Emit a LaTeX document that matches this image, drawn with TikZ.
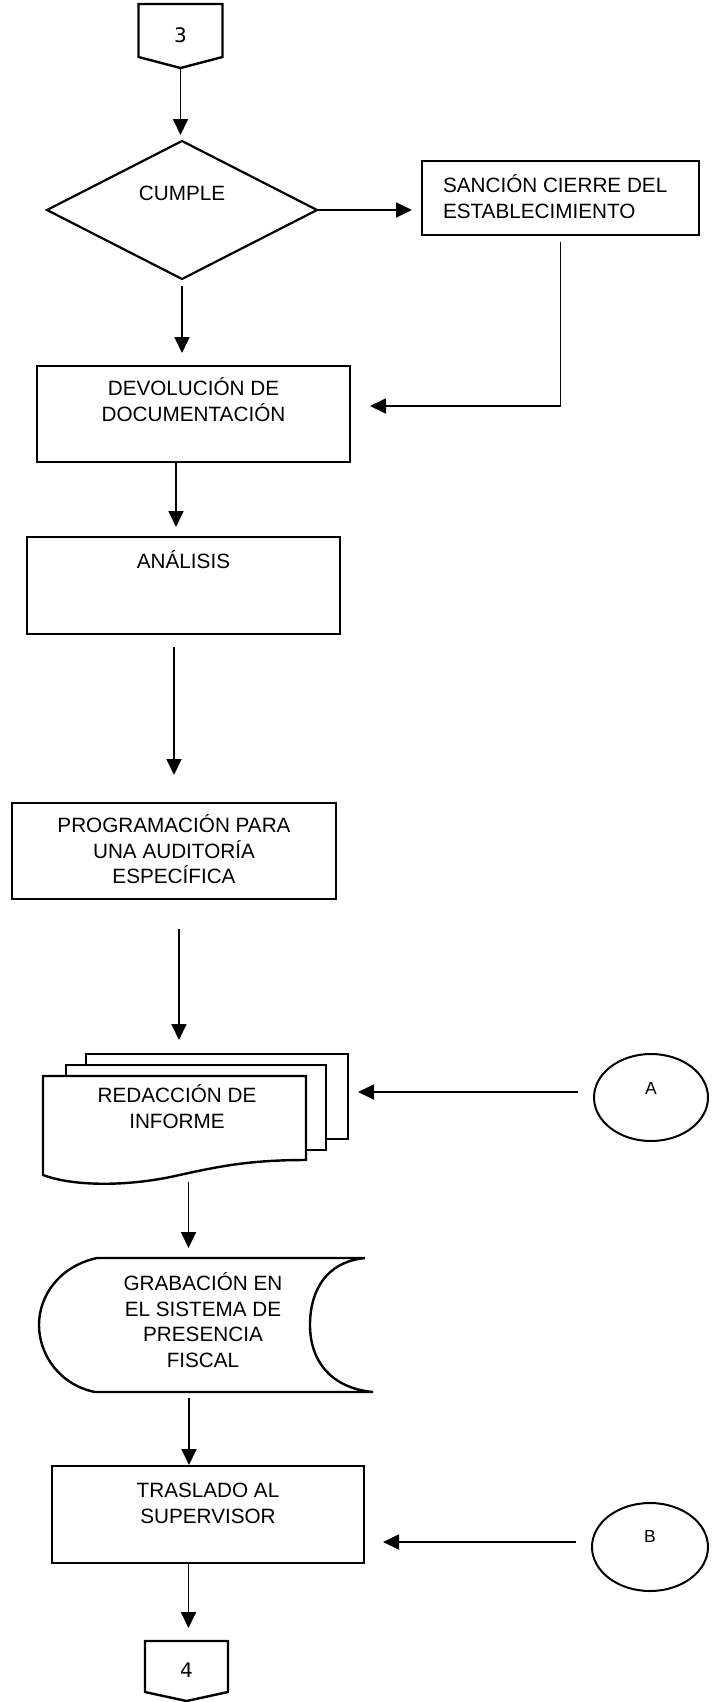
\documentclass[tikz,border=0pt]{standalone}
\usepackage{fontspec}
\setmainfont{Liberation Sans}
\newfontfamily\digitfont{DejaVu Sans}
\usetikzlibrary{arrows.meta,shapes.geometric}

\begin{document}
\begin{tikzpicture}[x=1pt,y=-1pt,
  every node/.style={inner sep=0pt, outer sep=0pt},
  box/.style={draw, line width=2.6pt},
  ghost/.style={draw=none},
  outline/.style={line width=2.4pt, line join=miter},
  txt/.style={font=\fontsize{20.7}{25.5}\selectfont, align=center, anchor=base},
  digit/.style={font=\digitfont\fontsize{20}{24}\selectfont},
  letter/.style={font=\fontsize{17.5}{20}\selectfont},
  arr/.style={line width=1.8pt, -{Triangle[width=15pt,length=16pt]}}]

\useasboundingbox (0,0) rectangle (719,1702);

% off-page connector "3"
\node[ghost, minimum width=84pt, minimum height=62pt, label={[digit]center:3}] (p3) at (180.5,35) {};
\draw[outline] ([yshift=9pt]p3.south west) -- (p3.north west) -- (p3.north east)
  -- ([yshift=9pt]p3.south east) -- ([yshift=-2pt]p3.south) -- cycle;

% decision
\node[diamond, draw, line width=2.2pt, minimum width=270pt, minimum height=138pt] (cumple) at (182,210) {};
\node[txt] (cumple-t) at ([yshift=9.5pt]cumple.center) {CUMPLE};

% sanction (multi-line text: base anchor sits on the last line)
\node[box, minimum width=277pt, minimum height=74pt] (sancion) at (560.5,198) {};
\node[txt, anchor=base west, align=left] (sancion-t) at ([xshift=21pt,yshift=-57pt]sancion.north west)
  {SANCIÓN CIERRE DEL\\ESTABLECIMIENTO};

% process boxes
\node[box, minimum width=313pt, minimum height=96pt] (devol) at (193.5,414) {};
\node[txt] (devol-t) at ([yshift=-55pt]devol.north) {DEVOLUCIÓN DE\\DOCUMENTACIÓN};

\node[box, minimum width=313pt, minimum height=97pt] (anal) at (183.5,585.5) {};
\node[txt] (anal-t) at ([yshift=-31.5pt]anal.north) {ANÁLISIS};

\node[box, minimum width=324pt, minimum height=96pt] (prog) at (174,851) {};
\node[txt] (prog-t) at ([yshift=-80.5pt]prog.north) {PROGRAMACIÓN PARA\\UNA AUDITORÍA\\ESPECÍFICA};

% multi-document
\node[ghost, minimum width=263pt, minimum height=106pt] (redac) at (174.5,1129) {};
\draw[outline] (86,1065) -- (86,1054) -- (348,1054) -- (348,1139) -- (326,1139);
\draw[outline] (66,1076) -- (66,1065) -- (326,1065) -- (326,1150) -- (306,1150);
\draw[outline] (43,1175) -- (43,1076) -- (306,1076) -- (306,1160)
  .. controls (250,1160) and (220,1166) .. (175,1176)
  .. controls (130,1186) and (75,1187) .. (43,1175) -- cycle;
\node[txt] (redac-t) at ([xshift=2.5pt,yshift=-52pt]redac.north) {REDACCIÓN DE\\INFORME};

% stored data
\node[ghost, minimum width=334pt, minimum height=134pt] (grab) at (206,1325) {};
\draw[outline] (97,1258) -- (365,1258)
  .. controls (325,1262) and (310,1292) .. (310,1325)
  .. controls (310,1360) and (330,1388) .. (373,1392)
  -- (95,1392)
  .. controls (60,1385) and (39,1355) .. (39,1325)
  .. controls (39,1295) and (60,1266) .. (97,1258) -- cycle;
\node[txt] (grab-t) at ([xshift=-3pt,yshift=-109pt]grab.north) {GRABACIÓN EN\\EL SISTEMA DE\\PRESENCIA\\FISCAL};

\node[box, minimum width=312pt, minimum height=97pt] (trasl) at (208,1514.5) {};
\node[txt] (trasl-t) at ([yshift=-57pt]trasl.north) {TRASLADO AL\\SUPERVISOR};

% on-page connectors
\node[ellipse, draw, line width=2pt, minimum width=114pt, minimum height=87pt,
  label={[letter,yshift=9.5pt]center:A}] (A) at (651,1097.5) {};
\node[ellipse, draw, line width=2pt, minimum width=116pt, minimum height=88pt,
  label={[letter,yshift=11pt]center:B}] (B) at (650,1547) {};

% off-page connector "4"
\node[ghost, minimum width=83pt, minimum height=58pt, label={[digit]center:4}] (p4) at (186.5,1670) {};
\draw[outline] ([yshift=7pt]p4.south west) -- (p4.north west) -- (p4.north east)
  -- ([yshift=7pt]p4.south east) -- ([yshift=-2pt]p4.south) -- cycle;

% flow
\draw[arr, shorten <=2pt, shorten >=6pt] (p3.south) -- (p3.south |- cumple.north);
\draw[arr, shorten >=10pt] (cumple.east) -- (cumple.east -| sancion.west);
\draw[arr, shorten <=7pt, shorten >=13pt] (cumple.south) -- (cumple.south |- devol.north);
\draw[arr, shorten <=7pt, shorten >=20pt] (sancion.south) |- ([yshift=8pt]devol.east);
\draw[arr, shorten >=10pt] ([xshift=-17.5pt]devol.south) -- ([xshift=-17.5pt]devol.south |- anal.north);
\draw[arr, shorten <=13pt, shorten >=28pt] ([xshift=-9.5pt]anal.south) -- ([xshift=-9.5pt]anal.south |- prog.north);
\draw[arr, shorten <=30pt, shorten >=36pt] ([xshift=5pt]prog.south) -- ([xshift=5pt]prog.south |- redac.north);
\draw[arr, shorten <=16pt, shorten >=52pt] ([yshift=5.5pt]A.west) -- ([yshift=5.5pt]A.west -| redac.east);
\draw[arr, shorten >=10pt] ([xshift=14pt]redac.south) -- ([xshift=14pt]redac.south |- grab.north);
\draw[arr, shorten <=6pt, shorten >=1pt] ([xshift=-17pt]grab.south) -- ([xshift=-17pt]grab.south |- trasl.north);
\draw[arr, shorten <=16pt, shorten >=19pt] ([yshift=5pt]B.west) -- ([yshift=5pt]B.west -| trasl.east);
\draw[arr, shorten >=13pt] ([xshift=-19.5pt]trasl.south) -- ([xshift=-19.5pt]trasl.south |- p4.north);

\end{tikzpicture}
\end{document}
